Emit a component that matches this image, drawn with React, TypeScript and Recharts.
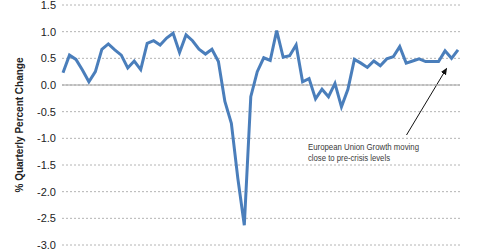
import { LineChart, Line, XAxis, YAxis, CartesianGrid, ReferenceLine, Customized } from 'recharts'

const years = [1999, 2000, 2001, 2002, 2003, 2004, 2005, 2006, 2007, 2008, 2009, 2010, 2011, 2012, 2013, 2014]
const quarterNames = ['Q1', 'Q2', 'Q3', 'Q4']

const growth = [
  0.23, 0.56, 0.48, 0.28, 0.06, 0.25, 0.67, 0.77, 0.66, 0.56, 0.32, 0.45, 0.29, 0.78, 0.83, 0.75,
  0.88, 0.97, 0.61, 0.94, 0.83, 0.67, 0.58, 0.67, 0.44, -0.31, -0.72, -1.75, -2.63, -0.22, 0.25, 0.51,
  0.46, 1.02, 0.52, 0.55, 0.75, 0.06, 0.12, -0.26, -0.08, -0.22, 0.03, -0.41, -0.08, 0.48, 0.41, 0.33,
  0.45, 0.36, 0.49, 0.53, 0.72, 0.41, 0.45, 0.49, 0.44, 0.44, 0.44, 0.64, 0.5, 0.66,
]

const quarters = years.flatMap((y) => quarterNames.map((q) => `${y} ${q}`)).slice(0, growth.length)

const yTicks = [-3, -2.5, -2, -1.5, -1, -0.5, 0, 0.5, 1, 1.5]

const noteLines = ['European Union Growth moving', 'close to pre-crisis levels']
const noteWidths = [111, 82]

const data = quarters.map((q, i) => ({ quarter: q, growth: growth[i] }))

function Annotation() {
  return (
    <g>
      <defs>
        <marker id="arrowHead" markerWidth="8" markerHeight="8" refX="6" refY="3" orient="auto" markerUnits="userSpaceOnUse">
          <path d="M0,0 L7,3 L0,6 z" fill="#111" />
        </marker>
      </defs>
      <line x1={406.5} y1={135} x2={446.5} y2={68.5} stroke="#111" strokeWidth={1} markerEnd="url(#arrowHead)" />
      {noteLines.map((t, i) => (
        <text
          key={t}
          x={308}
          y={150 + i * 10.5}
          fontSize={9.5}
          fill="#3a3a3a"
          textLength={noteWidths[i]}
          lengthAdjust="spacingAndGlyphs"
          fontFamily="'Liberation Sans', Arial, sans-serif"
        >
          {t}
        </text>
      ))}
    </g>
  )
}

export default function App() {
  return (
    <div style={{ position: 'absolute', left: 0, top: 0, width: 480, height: 251, background: '#fff' }}>
      <LineChart
        width={480}
        height={251}
        data={data}
        margin={{ top: 5, right: 20, left: 0, bottom: 6 }}
      >
        <CartesianGrid vertical={false} stroke="#b4b4b4" strokeDasharray="2 2" />
        <XAxis dataKey="quarter" hide padding={{ left: 1, right: 2 }} />
        <YAxis
          width={62}
          domain={[-3, 1.5]}
          ticks={yTicks}
          interval={0}
          axisLine={false}
          tickLine={false}
          tickSize={0}
          tickMargin={6}
          tickFormatter={(v: number) => v.toFixed(1)}
          tick={{ fontSize: 11, fill: '#222', fontFamily: "'Liberation Sans', Arial, sans-serif" }}
          label={{
            value: '% Quarterly Percent Change',
            angle: -90,
            position: 'insideLeft',
            dx: 14,
            style: { fontSize: 10, fontWeight: 'bold', fill: '#222', textAnchor: 'middle', fontFamily: "'Liberation Sans', Arial, sans-serif" },
          }}
        />
        <ReferenceLine y={0} stroke="#a0a0a0" strokeWidth={1} />
        <Line
          type="linear"
          dataKey="growth"
          stroke="#4a7ebb"
          strokeWidth={3}
          dot={false}
          isAnimationActive={false}
        />
        <Customized component={Annotation} />
      </LineChart>
    </div>
  )
}
